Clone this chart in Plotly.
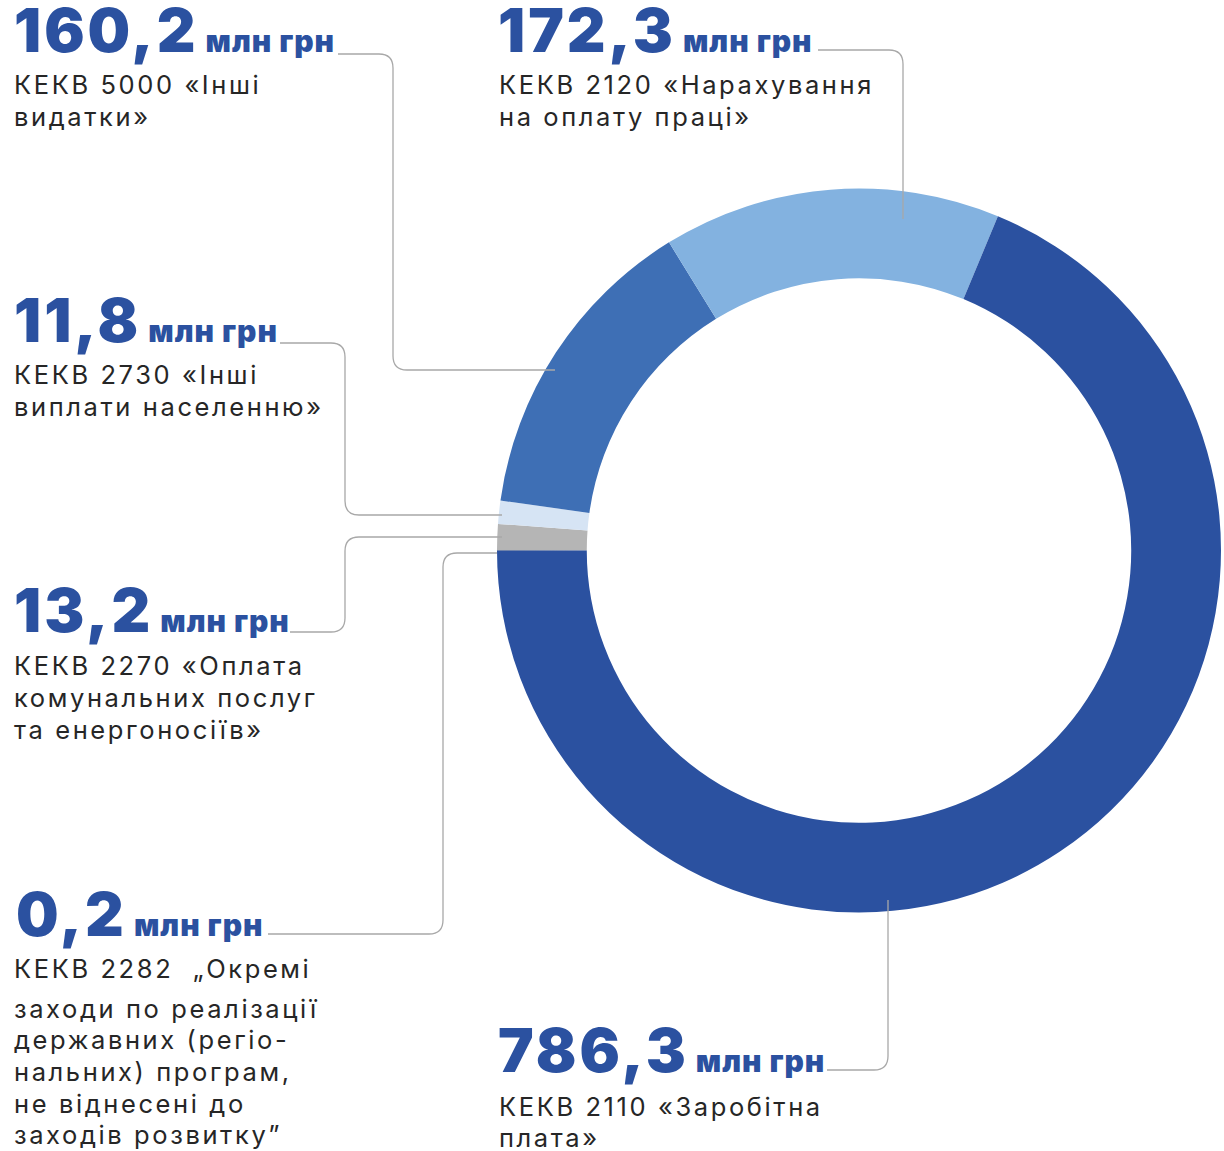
import plotly.graph_objects as go

W, H = 1224, 1151

# ---- data ----
categories = ["КЕКВ 2282", "КЕКВ 2270", "КЕКВ 2730", "КЕКВ 5000", "КЕКВ 2120", "КЕКВ 2110"]
values = [0.2, 13.2, 11.8, 160.2, 172.3, 786.3]
value_labels = ["0,2", "13,2", "11,8", "160,2", "172,3", "786,3"]
unit = "млн грн"
descriptions = [
    ["КЕКВ 2282  „Окремі", "заходи по реалізації", "державних (регіо-", "нальних) програм,", "не віднесені до", "заходів розвитку”"],
    ["КЕКВ 2270 «Оплата", "комунальних послуг", "та енергоносіїв»"],
    ["КЕКВ 2730 «Інші", "виплати населенню»"],
    ["КЕКВ 5000 «Інші", "видатки»"],
    ["КЕКВ 2120 «Нарахування", "на оплату праці»"],
    ["КЕКВ 2110 «Заробітна", "плата»"],
]
colors = ["#6B6B6B", "#B5B5B5", "#D6E4F4", "#3E6FB5", "#83B2E0", "#2B51A0"]

# ---- layout helpers (pixel -> paper) ----
def px(x):
    return x / W

def py(y):
    return 1 - y / H

NUM_COLOR = "#2B51A0"
TEXT_COLOR = "#262626"
LINE_COLOR = "#A8A8A8"

# label blocks: (headline x, headline baseline y, list of line centre y, body x)
blocks = [
    (15, 937, [968.5, 1008.5, 1039.5, 1071.5, 1103.5, 1134.5], 13),
    (13, 633, [665.5, 697.5, 729.5], 13),
    (13, 343, [374.5, 406.5], 13),
    (13, 53, [84.5, 116.5], 13),
    (497, 53, [84.5, 116.5], 498),
    (497, 1073, [1106, 1137], 498),
]

# leader line routes in pixels
routes = [
    [(268, 934), (443, 934), (443, 553), (497, 553)],
    [(290, 632), (345, 632), (345, 537), (502, 537)],
    [(280, 343), (345, 343), (345, 515), (502, 515)],
    [(338, 54), (393, 54), (393, 370), (555, 370)],
    [(818, 50), (903, 50), (903, 219)],
    [(827, 1070), (888, 1070), (888, 900)],
]

def rounded_path(pts, r=14):
    d = "M %.5f,%.5f" % (px(pts[0][0]), py(pts[0][1]))
    for i in range(1, len(pts)):
        x, y = pts[i]
        if i < len(pts) - 1:
            x0, y0 = pts[i - 1]
            x2, y2 = pts[i + 1]
            def toward(ax, ay, bx, by, dist):
                dx, dy = bx - ax, by - ay
                L = (dx * dx + dy * dy) ** 0.5
                return ax + dx / L * dist, ay + dy / L * dist
            ax_, ay_ = toward(x, y, x0, y0, r)
            bx_, by_ = toward(x, y, x2, y2, r)
            d += " L %.5f,%.5f Q %.5f,%.5f %.5f,%.5f" % (
                px(ax_), py(ay_), px(x), py(y), px(bx_), py(by_))
        else:
            d += " L %.5f,%.5f" % (px(x), py(y))
    return d

fig = go.Figure()
fig.add_trace(go.Pie(
    labels=categories,
    values=values,
    hole=0.752,
    sort=False,
    direction="clockwise",
    rotation=270,
    marker=dict(colors=colors, line=dict(width=0)),
    textinfo="none",
    hoverinfo="label+value",
    showlegend=False,
    domain=dict(x=[px(497), px(1221)], y=[py(913), py(188)]),
))

annotations = []
shapes = []
for i, (hx, hb, lines_y, bx) in enumerate(blocks):
    annotations.append(dict(
        x=px(hx), y=py(hb + 14), xref="paper", yref="paper",
        xanchor="left", yanchor="bottom", showarrow=False,
        text="<span style='letter-spacing:3px'>" + value_labels[i] + "</span>"
             + "<span style='font-size:30px;letter-spacing:1px'> " + unit + "</span>",
        font=dict(family="Inter", size=60, color=NUM_COLOR, weight=900),
        align="left", borderpad=0,
    ))
    for line, ly in zip(descriptions[i], lines_y):
        annotations.append(dict(
            x=px(bx), y=py(ly), xref="paper", yref="paper",
            xanchor="left", yanchor="middle", showarrow=False,
            text="<span style='letter-spacing:2.6px'>" + line + "</span>",
            font=dict(family="Inter", size=25.5, color=TEXT_COLOR, weight=400),
            align="left", borderpad=0,
        ))
    shapes.append(dict(
        type="path", xref="paper", yref="paper",
        path=rounded_path(routes[i]),
        line=dict(color=LINE_COLOR, width=1.3),
    ))

fig.update_layout(
    width=W, height=H,
    margin=dict(l=0, r=0, t=0, b=0),
    paper_bgcolor="white", plot_bgcolor="white",
    annotations=annotations,
    shapes=shapes,
)

fig.write_html("out.html")
